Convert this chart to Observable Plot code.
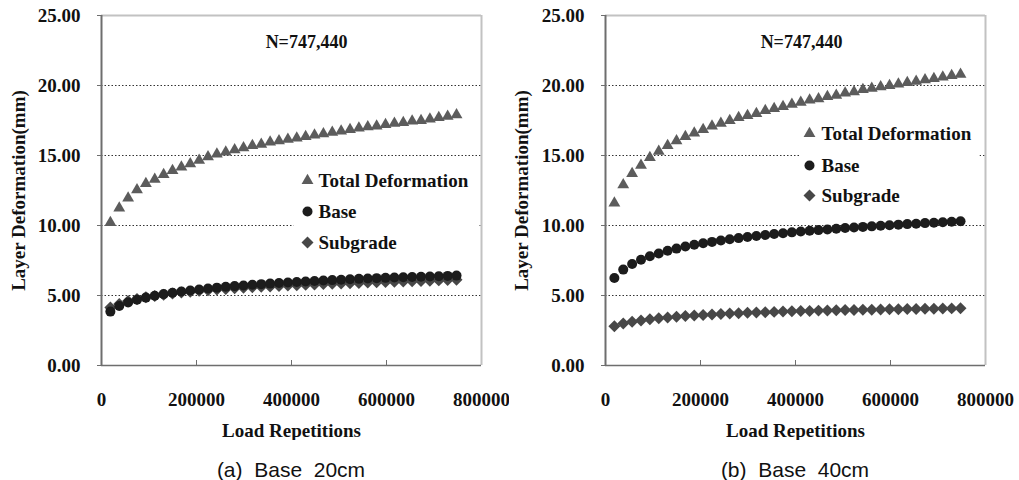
<!DOCTYPE html>
<html>
<head>
<meta charset="utf-8">
<script src="https://cdn.jsdelivr.net/npm/d3@7"></script>
<script src="https://cdn.jsdelivr.net/npm/@observablehq/plot@0.6"></script>
<style>
  html, body { margin: 0; padding: 0; background: #fff; }
  #wrap { display: flex; flex-direction: row; width: 1019px; height: 480px; overflow: hidden; }
  .panel { position: relative; }
  .panel svg { display: block; }
  .cap { font-family: "Liberation Sans", "Noto Sans", sans-serif; font-size: 21px; letter-spacing: 0px;
         color: #111; text-align: center; white-space: pre; height: 22px; line-height: 22px; margin-top: 19px; }
</style>
</head>
<body>
<div id="wrap"></div>
<script>
// ---- data ----
const loads = [18686, 37372, 56058, 74744, 93430, 112116, 130802, 149488, 168174, 186860,
  205546, 224232, 242918, 261604, 280290, 298976, 317662, 336348, 355034, 373720,
  392406, 411092, 429778, 448464, 467150, 485836, 504522, 523208, 541894, 560580,
  579266, 597952, 616638, 635324, 654010, 672696, 691382, 710068, 728754, 747440];

const totalA = [10.2, 11.25, 11.95, 12.55, 13.0, 13.3, 13.64, 13.93, 14.17, 14.4,
  14.65, 14.9, 15.1, 15.25, 15.4, 15.55, 15.7, 15.8, 15.95, 16.05,
  16.15, 16.25, 16.35, 16.45, 16.55, 16.65, 16.75, 16.85, 16.95, 17.05,
  17.1, 17.2, 17.3, 17.35, 17.45, 17.5, 17.6, 17.7, 17.8, 17.9];
const baseA = [3.85, 4.25, 4.5, 4.7, 4.85, 4.98, 5.1, 5.2, 5.28, 5.36,
  5.43, 5.5, 5.56, 5.62, 5.67, 5.72, 5.77, 5.81, 5.85, 5.89,
  5.93, 5.97, 6.0, 6.04, 6.07, 6.1, 6.13, 6.16, 6.19, 6.21,
  6.24, 6.26, 6.28, 6.3, 6.32, 6.34, 6.36, 6.38, 6.4, 6.42];
const subA = [4.15, 4.4, 4.6, 4.75, 4.87, 4.97, 5.06, 5.14, 5.21, 5.27,
  5.33, 5.38, 5.43, 5.47, 5.51, 5.55, 5.59, 5.62, 5.65, 5.68,
  5.71, 5.74, 5.77, 5.79, 5.82, 5.84, 5.86, 5.88, 5.9, 5.92,
  5.94, 5.96, 5.98, 6.0, 6.02, 6.04, 6.06, 6.08, 6.1, 6.12];

const totalB = [11.6, 12.9, 13.7, 14.3, 14.85, 15.3, 15.7, 16.05, 16.35, 16.6,
  16.85, 17.1, 17.3, 17.5, 17.7, 17.85, 18.0, 18.2, 18.35, 18.5,
  18.65, 18.8, 18.95, 19.05, 19.2, 19.3, 19.45, 19.55, 19.7, 19.8,
  19.9, 20.0, 20.1, 20.2, 20.3, 20.4, 20.5, 20.6, 20.7, 20.8];
const baseB = [6.25, 6.85, 7.25, 7.55, 7.8, 8.0, 8.2, 8.35, 8.5, 8.62,
  8.73, 8.83, 8.93, 9.02, 9.1, 9.18, 9.25, 9.32, 9.39, 9.45,
  9.51, 9.57, 9.62, 9.67, 9.72, 9.77, 9.82, 9.86, 9.9, 9.94,
  9.98, 10.02, 10.06, 10.1, 10.13, 10.17, 10.2, 10.23, 10.27, 10.3];
const subB = [2.8, 3.0, 3.12, 3.22, 3.3, 3.37, 3.43, 3.48, 3.53, 3.57,
  3.61, 3.65, 3.68, 3.71, 3.74, 3.77, 3.79, 3.81, 3.83, 3.85,
  3.87, 3.89, 3.9, 3.92, 3.93, 3.95, 3.96, 3.97, 3.98, 3.99,
  4.0, 4.01, 4.02, 4.03, 4.04, 4.05, 4.06, 4.07, 4.08, 4.09];

const seriesNames = ["Total Deformation", "Base", "Subgrade"];
const yTicks = [0, 5, 10, 15, 20, 25];
const gridTicks = [5, 10, 15, 20];
const xTicks = [0, 200000, 400000, 600000, 800000];
const titleN = "N=747,440";
const xTitle = "Load Repetitions";
const yTitle = "Layer Deformation(mm)";
const captions = ["(a)  Base  20cm", "(b)  Base  40cm"];

// ---- styles ----
const FONT = "Liberation Serif, Times New Roman, serif";
const TXT = "#111";
const styles = [
  {symbol: "triangle", r: 4.4, fill: "#5c5c5c"},
  {symbol: "circle", r: 5, fill: "#1c1c1c"},
  {symbol: "diamond2", r: 5.4, fill: "#474747"}
];

function panel(cfg) {
  const rows = loads.map((x, i) => ({x, total: cfg.total[i], base: cfg.base[i], sub: cfg.sub[i]}));
  const keys = ["total", "base", "sub"];
  const txt = {fontFamily: FONT, fontWeight: "bold", fontSize: 19, fill: TXT};
  const marks = [
    Plot.ruleY(gridTicks, {stroke: "#333", strokeWidth: 1, strokeDasharray: "1.5,2"}),
    Plot.frame({fill: "white", stroke: null, ...cfg.legendBox}),
    Plot.ruleY([25], {stroke: "#c2c2c2", strokeWidth: 2}),
    Plot.ruleX([800000], {stroke: "#c2c2c2", strokeWidth: 2}),
    Plot.ruleX([0], {stroke: "#6e6e6e", strokeWidth: 2}),
    Plot.ruleY([0], {stroke: "#6e6e6e", strokeWidth: 1.5}),
    Plot.tickX(xTicks.slice(1, 4), {x: d => d, insetTop: 345, stroke: "#6e6e6e"}),
    Plot.axisY(yTicks, {tickSize: 4, tickPadding: 17, stroke: "#6e6e6e", tickFormat: d3.format(".2f"), label: null, ...txt}),
    Plot.axisX(xTicks, {tickSize: 0, tickPadding: 27, tickFormat: d => String(d), label: null, ...txt}),
    Plot.text([xTitle], {frameAnchor: "bottom", dy: 65, lineAnchor: "middle", ...txt}),
    Plot.text([yTitle], {frameAnchor: "left", dx: cfg.yTitleDx, rotate: -90, lineAnchor: "middle", textAnchor: "middle", ...txt}),
    Plot.text([titleN], {frameAnchor: "top", dx: cfg.nDx, dy: 27, lineAnchor: "middle", ...txt, fontSize: 18})
  ];
  [2, 1, 0].forEach(k => {
    const s = styles[k];
    marks.push(Plot.dot(rows, {x: "x", y: keys[k], symbol: s.symbol, r: s.r, fill: s.fill, stroke: null}));
  });
  seriesNames.forEach((name, k) => {
    const s = styles[k];
    marks.push(Plot.dot([name], {frameAnchor: "top-left", dx: cfg.legend.mx, dy: cfg.legend.rows[k], symbol: s.symbol, r: s.r, fill: s.fill, stroke: null}));
    marks.push(Plot.text([name], {frameAnchor: "top-left", dx: cfg.legend.tx, dy: cfg.legend.rows[k], textAnchor: "start", lineAnchor: "middle", ...txt}));
  });
  const chart = Plot.plot({
    width: cfg.width, height: 440,
    marginLeft: cfg.marginLeft, marginRight: cfg.marginRight, marginTop: 15, marginBottom: 75,
    x: {domain: [0, 800000]},
    y: {domain: [0, 25]},
    style: {background: "white", color: TXT, fontFamily: FONT},
    marks
  });
  const div = document.createElement("div");
  div.className = "panel";
  div.style.width = cfg.width + "px";
  div.appendChild(chart);
  const cap = document.createElement("div");
  cap.className = "cap";
  cap.style.paddingLeft = cfg.marginLeft + "px";
  cap.style.width = (cfg.width - cfg.marginLeft - cfg.marginRight) + "px";
  cap.textContent = cfg.caption;
  div.appendChild(cap);
  document.getElementById("wrap").appendChild(div);
}

panel({
  total: totalA, base: baseA, sub: subA,
  width: 509, marginLeft: 101, marginRight: 28,
  yTitleDx: -83, nDx: 15,
  legendBox: {insetLeft: 192, insetRight: 2, insetTop: 148, insetBottom: 107},
  legend: {mx: 206, tx: 217, rows: [165, 196, 227]},
  caption: captions[0]
});
panel({
  total: totalB, base: baseB, sub: subB,
  width: 510, marginLeft: 96, marginRight: 34,
  yTitleDx: -84, nDx: 6,
  legendBox: {insetLeft: 194, insetRight: 6, insetTop: 103, insetBottom: 154},
  legend: {mx: 204, tx: 216, rows: [118, 150, 180]},
  caption: captions[1]
});
</script>
</body>
</html>
